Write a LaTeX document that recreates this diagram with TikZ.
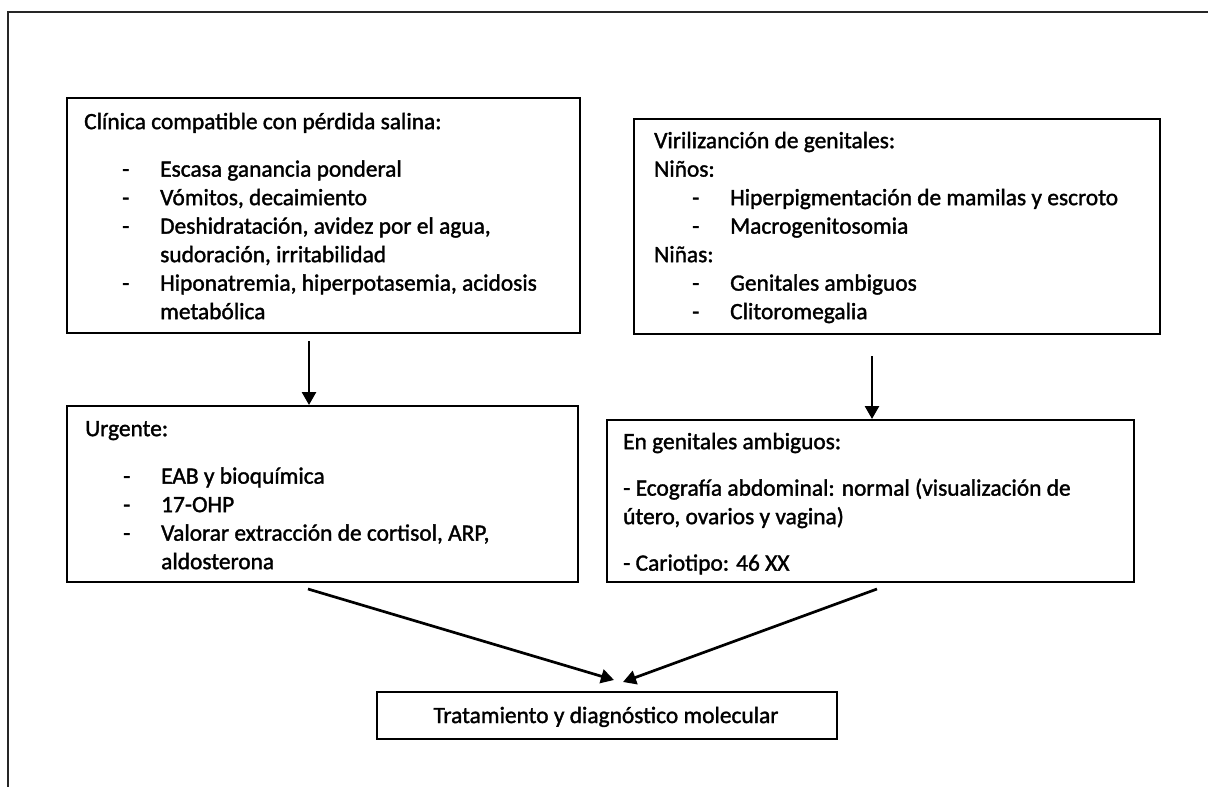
\documentclass[tikz,border=0pt]{standalone}
\usepackage{fontspec}
\setmainfont{Carlito}[FakeBold=1.5]
\newfontfamily\heavyfont{Carlito}[FakeBold=1.5]
\usetikzlibrary{arrows.meta}
\newcommand\dashitem[1]{\hspace*{38pt}\makebox[38pt][l]{-}#1}
\newcommand\contline[1]{\hspace*{76pt}#1}
\newcommand\boxfont{\heavyfont\fontsize{23.4pt}{28.5pt}\selectfont}
\begin{document}
\begin{tikzpicture}[x=1pt,y=-1pt,
  box/.style={draw=black, line width=2pt, rectangle, anchor=north west, inner sep=0pt},
  txt/.style={anchor=north west, inner sep=0pt, font=\boxfont, text=black},
  arr/.style={line width=2.7pt, -{Triangle[length=13pt,width=14pt]}},
  frame/.style={line width=1.5pt, draw=black!85}]
\useasboundingbox (0,0) rectangle (1208,787);
\draw[frame] (8,787) -- (8,12) -- (1208,12);
% boxes
\node[box, minimum width=513pt, minimum height=235pt] (b1) at (66,97) {};
\node[box, minimum width=526pt, minimum height=215pt] (b2) at (633,118) {};
\node[box, minimum width=511pt, minimum height=176pt] (b3) at (66,405) {};
\node[box, minimum width=527pt, minimum height=162pt] (b4) at (606,419) {};
\node[box, minimum width=460pt, minimum height=47pt] (b5) at (376,691) {};
% texts
\node[txt] (t1) at (84,109) {\begin{tabular}{@{}l@{}}
Clínica compatible con pérdida salina:\\[19pt]
\dashitem{Escasa ganancia ponderal}\\
\dashitem{Vómitos, decaimiento}\\
\dashitem{Deshidratación, avidez por el agua,}\\
\contline{sudoración, irritabilidad}\\
\dashitem{Hiponatremia, hiperpotasemia, acidosis}\\
\contline{metabólica}
\end{tabular}};
\node[txt] (t2) at (654,128) {\begin{tabular}{@{}l@{}}
Virilizanción de genitales:\\
Niños:\\
\dashitem{Hiperpigmentación de mamilas y escroto}\\
\dashitem{Macrogenitosomia}\\
Niñas:\\
\dashitem{Genitales ambiguos}\\
\dashitem{Clitoromegalia}
\end{tabular}};
\node[txt] (t3) at (85,416) {\begin{tabular}{@{}l@{}}
Urgente:\\[19pt]
\dashitem{EAB y bioquímica}\\
\dashitem{17-OHP}\\
\dashitem{Valorar extracción de cortisol, ARP,}\\
\contline{aldosterona}
\end{tabular}};
\node[txt] (t4) at (623,429) {\begin{tabular}{@{}l@{}}
En genitales ambiguos:\\[18pt]
- Ecografía abdominal: normal (visualización de\\
útero, ovarios y vagina)\\[18pt]
- Cariotipo: 46 XX
\end{tabular}};
\node[font=\boxfont, anchor=base, inner sep=0pt] (t5) at (606,723) {Tratamiento y diagnóstico molecular};
% connectors
\coordinate (a1) at (309,341);
\coordinate (a2) at (872,356);
\coordinate (a3) at (308,589);
\coordinate (a4) at (877,589);
\draw[arr] (a1) -- (a1 |- b3.north);
\draw[arr] (a2) -- (a2 |- b4.north);
\draw[arr] (a3) -- ([shift={(7,-11)}]b5.north);
\draw[arr] (a4) -- ([shift={(16,-9)}]b5.north);
\end{tikzpicture}
\end{document}
